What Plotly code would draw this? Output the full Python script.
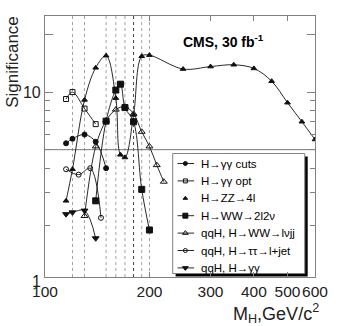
import plotly.graph_objects as go

# ---------------- data ----------------
mass_gg_cuts = [115, 120, 130, 140, 150]
sig_gg_cuts = [5.4, 5.7, 6.0, 5.5, 4.0]

mass_gg_opt = [115, 120, 130, 140]
sig_gg_opt = [9.2, 10.0, 8.2, 6.8]

mass_zz = [115, 120, 130, 140, 150, 160, 165, 170, 180, 190, 200, 250, 300, 350, 400, 450, 500, 550, 600]
sig_zz = [2.7, 3.95, 9.1, 13.4, 15.5, 9.3, 4.7, 4.55, 7.6, 15.4, 15.6, 13.2, 13.6, 13.9, 13.3, 11.4, 8.8, 7.0, 5.65]

mass_ww2l = [140, 150, 160, 165, 170, 180, 190, 200]
sig_ww2l = [2.7, 7.05, 10.25, 11.0, 8.3, 7.0, 3.1, 1.9]

mass_qqww = [130, 140, 150, 160, 170, 180, 190, 200, 210, 220]
sig_qqww = [2.25, 5.2, 7.1, 8.1, 8.4, 7.7, 6.2, 5.2, 4.15, 3.4]

mass_qqtt = [115, 125, 135, 145]
sig_qqtt = [3.95, 3.7, 4.0, 2.2]

mass_qqgg = [115, 120, 130, 140]
sig_qqgg = [2.3, 2.35, 2.4, 1.72]

series_names = ["H→γγ cuts", "H→γγ opt", "H→ZZ→4l", "H→WW→2l2ν",
                "qqH, H→WW→lνjj", "qqH, H→ττ→l+jet", "qqH, H→γγ"]

ref_masses = [120, 130, 150, 160, 170, 180, 190, 200]
ref_level = 5

x_tick_vals = [100, 200, 300, 400, 500, 600]
x_tick_text = ["100", "200", "300", "400", "500", "600"]
y_major_vals = [10, 20]
y_major_text = ["10", ""]
y_minor_vals = [2, 3, 4, 5, 6, 7, 8, 9]

# ---------------- layout constants ----------------
W, H = 340, 326
L, R, T, B = 45, 18, 16, 49
PX0, PX1, PY0, PY1 = L, W - R, T, H - B   # plot area in pixels
FONT = "Liberation Sans, Arial, Helvetica, sans-serif"
INK = "#111111"
FRAME = "#808080"

styles = [
    dict(symbol="circle", size=5),
    dict(symbol="square-open", size=5),
    dict(symbol="triangle-up", size=5),
    dict(symbol="square", size=6),
    dict(symbol="triangle-up-open", size=6),
    dict(symbol="circle-open", size=5),
    dict(symbol="triangle-down", size=6),
]
data = [(mass_gg_cuts, sig_gg_cuts), (mass_gg_opt, sig_gg_opt), (mass_zz, sig_zz),
        (mass_ww2l, sig_ww2l), (mass_qqww, sig_qqww), (mass_qqtt, sig_qqtt),
        (mass_qqgg, sig_qqgg)]


def paper(px, py):
    return (px - PX0) / (PX1 - PX0), (PY1 - py) / (PY1 - PY0)


fig = go.Figure()

for (m, s), st, name in zip(data, styles, series_names):
    fig.add_trace(go.Scatter(
        x=m, y=s, name=name, mode="lines+markers",
        line=dict(shape="spline", smoothing=1.0, color=INK, width=0.9),
        marker=dict(symbol=st["symbol"], size=st["size"], color=INK,
                    line=dict(color=INK, width=1)),
        showlegend=False, hoverinfo="skip"))

# ---------------- hand-drawn legend on an overlay pixel axis ----------------
LEG_X0, LEG_X1, LEG_Y0, LEG_Y1 = 176, 311.5, 153.5, 273.5
SHADOW = 3
ROW0, ROW_STEP = 163.5, 17.4
SAMPLE_X0, SAMPLE_XM, SAMPLE_X1 = 181, 189, 198
TEXT_X = 203

fig.add_trace(go.Scatter(
    x=[LEG_X0 + SHADOW, LEG_X1 + SHADOW, LEG_X1 + SHADOW, LEG_X0 + SHADOW, LEG_X0 + SHADOW],
    y=[LEG_Y0 + SHADOW, LEG_Y0 + SHADOW, LEG_Y1 + SHADOW, LEG_Y1 + SHADOW, LEG_Y0 + SHADOW],
    fill="toself", fillcolor="black", mode="lines", line=dict(width=0, color="black"),
    xaxis="x2", yaxis="y2", showlegend=False, hoverinfo="skip"))
fig.add_trace(go.Scatter(
    x=[LEG_X0, LEG_X1, LEG_X1, LEG_X0, LEG_X0],
    y=[LEG_Y0, LEG_Y0, LEG_Y1, LEG_Y1, LEG_Y0],
    fill="toself", fillcolor="white", mode="lines", line=dict(width=1, color=FRAME),
    xaxis="x2", yaxis="y2", showlegend=False, hoverinfo="skip"))

for i, (st, name) in enumerate(zip(styles, series_names)):
    ry = ROW0 + i * ROW_STEP
    if i != 2:
        fig.add_trace(go.Scatter(
            x=[SAMPLE_X0, SAMPLE_X1], y=[ry, ry], mode="lines",
            line=dict(color=INK, width=0.9), xaxis="x2", yaxis="y2",
            showlegend=False, hoverinfo="skip"))
    fig.add_trace(go.Scatter(
        x=[SAMPLE_XM], y=[ry], mode="markers",
        marker=dict(symbol=st["symbol"], size=st["size"] - 1, color=INK,
                    line=dict(color=INK, width=1)),
        xaxis="x2", yaxis="y2", showlegend=False, hoverinfo="skip"))
    px, py = paper(TEXT_X, ry)
    fig.add_annotation(x=px, y=py, xref="paper", yref="paper", text=name,
                       showarrow=False, xanchor="left", yanchor="middle",
                       font=dict(family=FONT, size=11.5, color="black"))

# ---------------- reference lines ----------------
for mref in ref_masses:
    fig.add_shape(type="line", xref="x", yref="paper", x0=mref, x1=mref, y0=0, y1=1,
                  line=dict(color="#444444" if mref == 180 else "#a0a0a0", width=1, dash="dot"),
                  layer="below")
fig.add_shape(type="line", xref="paper", yref="y", x0=0, x1=1, y0=ref_level, y1=ref_level,
              line=dict(color="#777777", width=1), layer="below")

# ---------------- texts ----------------
px, py = paper(185, 41)
fig.add_annotation(x=px, y=py, xref="paper", yref="paper",
                   text="<b>CMS, 30 fb<sup>-1</sup></b>", showarrow=False,
                   xanchor="left", yanchor="middle",
                   font=dict(family=FONT, size=14, color="black"))
px, py = paper(11, 62)
fig.add_annotation(x=px, y=py, xref="paper", yref="paper", text="Significance",
                   textangle=-90, showarrow=False, xanchor="center", yanchor="middle",
                   font=dict(family=FONT, size=17, color="#222"))
px, py = paper(328, 313)
fig.add_annotation(x=px, y=py, xref="paper", yref="paper",
                   text="M<sub>H</sub>,GeV/c<sup>2</sup>", showarrow=False,
                   xanchor="right", yanchor="middle",
                   font=dict(family=FONT, size=18, color="#222"))
px, py = paper(36, 281)
fig.add_annotation(x=px, y=py, xref="paper", yref="paper", text="1",
                   showarrow=False, xanchor="center", yanchor="middle",
                   font=dict(family=FONT, size=16, color="#222"))

fig.update_layout(
    width=W, height=H,
    margin=dict(l=L, r=R, t=T, b=B, pad=0),
    paper_bgcolor="white", plot_bgcolor="white",
    showlegend=False,
    font=dict(family=FONT, size=16, color="#222"),
    xaxis=dict(type="log", range=[2, 2.77815], showgrid=False, zeroline=False,
               showline=True, linecolor=FRAME, linewidth=1.2, mirror="ticks",
               ticks="inside", ticklen=5, tickcolor=FRAME, tickwidth=1,
               tickmode="array", tickvals=x_tick_vals, ticktext=x_tick_text,
               tickangle=0,
               tickfont=dict(family=FONT, size=15.5, color="#222")),
    yaxis=dict(type="log", range=[0.033, 1.398], showgrid=False, zeroline=False,
               showline=True, linecolor=FRAME, linewidth=1.2, mirror="ticks",
               ticks="inside", ticklen=8, tickcolor=FRAME, tickwidth=1,
               tickmode="array", tickvals=y_major_vals, ticktext=y_major_text,
               tickfont=dict(family=FONT, size=16, color="#222"),
               minor=dict(tickmode="array", tickvals=y_minor_vals, ticks="inside",
                          ticklen=5, tickcolor=FRAME, tickwidth=1, showgrid=False)),
    xaxis2=dict(overlaying="x", anchor="y2", range=[PX0, PX1], visible=False,
                fixedrange=True),
    yaxis2=dict(overlaying="y", anchor="x2", range=[PY1, PY0], visible=False,
                fixedrange=True),
)

fig.write_html("out.html", config={"displayModeBar": False},
               post_script="document.body.style.margin='0';document.body.style.padding='0';")
